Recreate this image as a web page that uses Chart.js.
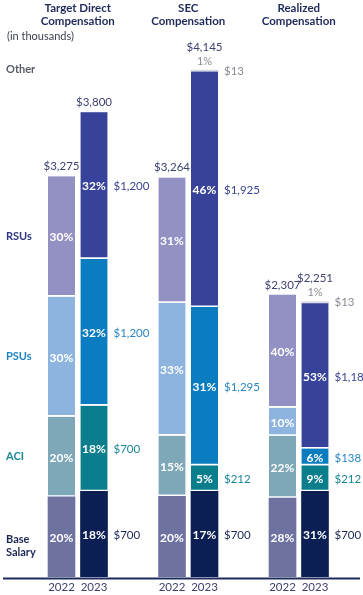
<!DOCTYPE html>
<html>
<head>
<meta charset="utf-8">
<script src="https://cdn.jsdelivr.net/npm/chart.js@4/dist/chart.umd.min.js"></script>
<style>
  html, body { margin: 0; padding: 0; background: #fff; }
  #wrap { width: 363px; height: 595px; position: relative; }
</style>
</head>
<body>
<div id="wrap"><canvas id="c" width="363" height="595"></canvas></div>
<script>
// ---------- DATA (in thousands) ----------
const groups = [['Target Direct', 'Compensation'], ['SEC', 'Compensation'], ['Realized', 'Compensation']];
const years = ['2022', '2023'];
// bar order: TDC 2022, TDC 2023, SEC 2022, SEC 2023, Realized 2022, Realized 2023
const baseSalary = [655, 700, 660, 700, 646, 700];
const aci        = [655, 700, 495, 212, 508, 212];
const psus       = [982, 1200, 1085, 1295, 230, 138];
const rsus       = [983, 1200, 1024, 1925, 923, 1188];
const other      = [0, 0, 0, 13, 0, 13];
const basePct  = ['20%', '18%', '20%', '17%', '28%', '31%'];
const aciPct   = ['20%', '18%', '15%', '5%', '22%', '9%'];
const psuPct   = ['30%', '32%', '33%', '31%', '10%', '6%'];
const rsuPct   = ['30%', '32%', '31%', '46%', '40%', '53%'];
const otherPct = ['', '', '', '1%', '', '1%'];
const seriesNames = ['Base Salary', 'ACI', 'PSUs', 'RSUs', 'Other'];

// ---------- STYLE ----------
const FONT = 'Lato, "Open Sans", sans-serif';
const colors2022 = ['#6e72a0', '#7ea7b8', '#8db3df', '#9390c3', '#d9dae3'];
const colors2023 = ['#0b1f55', '#0b7e8e', '#0a7dc1', '#37429a', '#d9dae3'];
const labelColors = ['#1c2655', '#1a8796', '#2a86c6', '#3b4494', '#8a8a95'];
const leftLabelColors = ['#1c2655', '#1a8796', '#1f82c2', '#2d3585', '#555a66'];

const seriesValues = [baseSalary, aci, psus, rsus, other];
const seriesPcts = [basePct, aciPct, psuPct, rsuPct, otherPct];

// x positions: group index * step + year index
const GROUP_STEP = 3.4;
const xPos = [];
groups.forEach((g, gi) => years.forEach((y, yi) => xPos.push(gi * GROUP_STEP + yi)));

const datasets = seriesNames.map((name, si) => ({
  label: name,
  data: seriesValues[si].map((v, i) => ({ x: xPos[i], y: v })),
  backgroundColor: seriesValues[si].map((v, i) => (i % 2 === 0 ? colors2022[si] : colors2023[si])),
  borderColor: '#ffffff',
  borderWidth: si === 4 || si === 0 ? 0 : { top: 0, right: 0, bottom: 2, left: 0 },
  borderSkipped: false,
  barThickness: 27
}));

const fmt = v => '$' + v.toLocaleString('en-US');

const labelPlugin = {
  id: 'labels',
  afterDatasetsDraw(chart) {
    const ctx = chart.ctx;
    const yScale = chart.scales.y;
    const zeroY = yScale.getPixelForValue(0);
    ctx.save();
    // baseline
    ctx.strokeStyle = '#1f2a5c';
    ctx.lineWidth = 2;
    ctx.beginPath();
    ctx.moveTo(3, zeroY + 1.5);
    ctx.lineTo(360, zeroY + 1.5);
    ctx.stroke();

    const n = xPos.length;
    const metas = seriesNames.map((s, si) => chart.getDatasetMeta(si));
    for (let i = 0; i < n; i++) {
      const yi = i % 2;
      let topY = zeroY, total = 0, barX = 0, barRight = 0;
      for (let si = 0; si < seriesNames.length; si++) {
        const el = metas[si].data[i];
        const v = seriesValues[si][i];
        barX = el.x; barRight = el.x + el.width / 2;
        if (!v) continue;
        total += v;
        topY = Math.min(topY, el.y);
        const cy = (el.y + el.base) / 2;
        if (si < 4) {
          ctx.fillStyle = '#ffffff';
          ctx.font = 'bold 12px ' + FONT;
          ctx.textAlign = 'center';
          ctx.textBaseline = 'middle';
          ctx.fillText(seriesPcts[si][i], el.x, cy + 1);
        }
        if (yi === 1) {
          ctx.fillStyle = labelColors[si];
          ctx.font = '11.5px ' + FONT;
          ctx.textAlign = 'left';
          ctx.textBaseline = 'middle';
          ctx.fillText(fmt(v), barRight + 6, si === 4 ? cy : cy + 1);
        }
      }
      const hasOther = other[i] > 0;
      ctx.textAlign = 'center';
      ctx.textBaseline = 'middle';
      if (hasOther) {
        ctx.fillStyle = '#8a8a95';
        ctx.font = '11px ' + FONT;
        ctx.fillText(otherPct[i], barX, topY - 9);
      }
      ctx.fillStyle = '#3d4270';
      ctx.font = '11.5px ' + FONT;
      ctx.fillText(fmt(total), barX, topY - (hasOther ? 23 : 10));
      // year labels
      ctx.fillStyle = '#3d4270';
      ctx.font = '11.5px ' + FONT;
      ctx.fillText(years[yi], barX, zeroY + 10);
    }

    // group titles
    ctx.fillStyle = '#1f2a5c';
    ctx.font = 'bold 11.5px ' + FONT;
    ctx.textAlign = 'center';
    groups.forEach((g, gi) => {
      const cx = (metas[0].data[gi * 2].x + metas[0].data[gi * 2 + 1].x) / 2;
      ctx.fillText(g[0], cx, 8);
      ctx.fillText(g[1], cx, 21);
    });
    ctx.fillStyle = '#3d4255';
    ctx.font = '11px ' + FONT;
    ctx.textAlign = 'left';
    ctx.fillText('(in thousands)', 7, 36);

    // left row labels, aligned with the first bar's segments
    ctx.font = 'bold 11px ' + FONT;
    ctx.textAlign = 'left';
    for (let si = 0; si < 4; si++) {
      const el = metas[si].data[0];
      const cy = (el.y + el.base) / 2;
      ctx.fillStyle = leftLabelColors[si];
      if (si === 0) {
        ctx.fillText('Base', 6, cy + 3);
        ctx.fillText('Salary', 6, cy + 16);
      } else {
        ctx.fillText(seriesNames[si], 6, cy);
      }
    }
    const oEl = metas[4].data[3];
    ctx.fillStyle = leftLabelColors[4];
    ctx.fillText('Other', 6, (oEl.y + oEl.base) / 2 - 1);
    ctx.restore();
  }
};

new Chart(document.getElementById('c'), {
  type: 'bar',
  data: { datasets },
  options: {
    responsive: false,
    animation: false,
    devicePixelRatio: 1,
    layout: { padding: { left: 29, right: 9, top: 20, bottom: 18 } },
    plugins: { legend: { display: false }, tooltip: { enabled: false } },
    scales: {
      x: { type: 'linear', min: -1, max: 9, offset: false, stacked: true, display: false },
      y: { min: 0, max: 4554, stacked: true, display: false }
    }
  },
  plugins: [labelPlugin]
});
</script>
</body>
</html>
